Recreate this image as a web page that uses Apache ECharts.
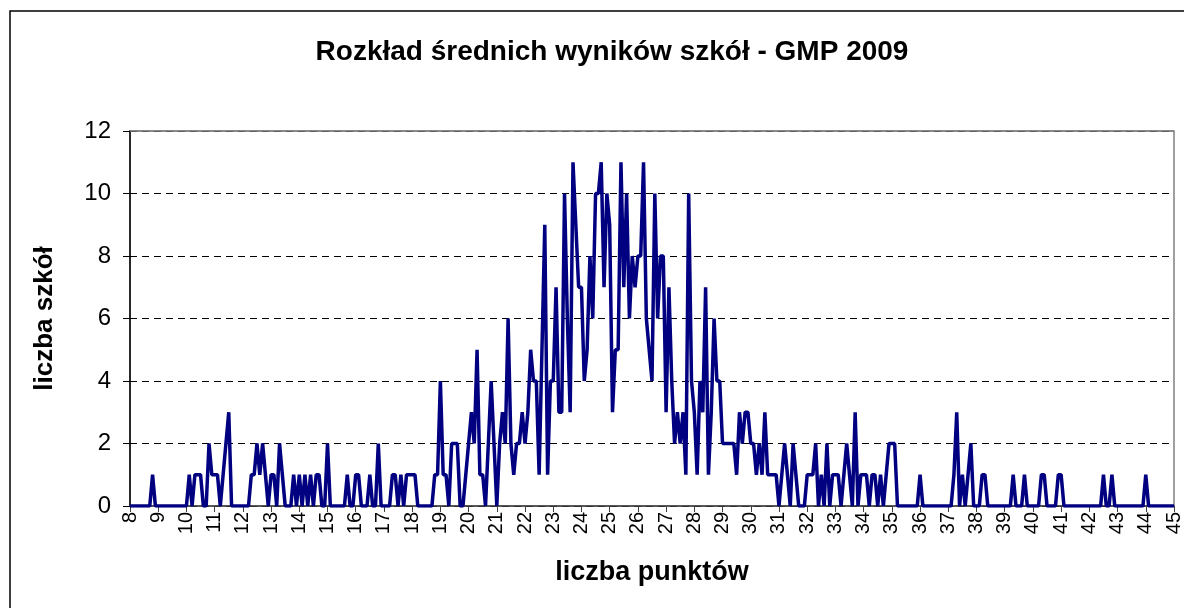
<!DOCTYPE html>
<html>
<head>
<meta charset="utf-8">
<script src="https://cdn.jsdelivr.net/npm/echarts@6/dist/echarts.min.js"></script>
<style>
  html, body { margin: 0; padding: 0; background: #fff; }
  #chart { width: 1184px; height: 608px; }
</style>
</head>
<body>
<div id="chart"></div>
<script>
// x goes from 8 to 45 in steps of 0.1 pkt, labels only on whole numbers
var xStart = 8;
var xEnd = 45;
var xStep = 0.1;
var tickLabels = ['8','9','10','11','12','13','14','15','16','17','18','19','20','21','22','23','24','25','26',
	'27','28','29','30','31','32','33','34','35','36','37','38','39','40','41','42','43','44','45'];

// liczba szkół for each category, one row = one whole point (x.0 .. x.9)
var counts = [
	0,0,0,0,0,0,0,0,1,0,      // 8
	0,0,0,0,0,0,0,0,0,0,      // 9
	0,1,0,1,1,1,0,0,2,1,      // 10
	1,1,0,1,2,3,0,0,0,0,      // 11
	0,0,0,1,1,2,1,2,1,0,      // 12
	1,1,0,2,1,0,0,0,1,0,      // 13
	1,0,1,0,1,0,1,1,0,0,      // 14
	2,0,0,0,0,0,0,1,0,0,      // 15
	1,1,0,0,0,1,0,0,2,0,      // 16
	0,0,0,1,1,0,1,0,1,1,      // 17
	1,1,0,0,0,0,0,0,1,1,      // 18
	4,1,1,0,2,2,2,0,0,1,      // 19
	2,3,2,5,1,1,0,2,4,2,      // 20
	0,2,3,2,6,2,1,2,2,3,      // 21
	2,3,5,4,4,1,5,9,1,4,      // 22
	4,7,3,3,10,6,3,11,9,7,    // 23
	7,4,5,8,6,10,10,11,7,10,  // 24
	9,3,5,5,11,7,10,6,8,7,    // 25
	8,8,11,6,5,4,10,6,8,8,    // 26
	3,7,4,2,3,2,3,1,10,4,     // 27
	3,1,4,3,7,1,3,6,4,4,      // 28
	2,2,2,2,2,1,3,2,3,3,      // 29
	2,2,1,2,1,3,1,1,1,1,      // 30
	0,1,2,1,0,2,1,0,0,0,      // 31
	1,1,1,2,0,1,0,2,0,1,      // 32
	1,1,0,1,2,1,0,3,0,1,      // 33
	1,1,0,1,1,0,1,0,1,2,      // 34
	2,2,0,0,0,0,0,0,0,0,      // 35
	1,0,0,0,0,0,0,0,0,0,      // 36
	0,0,1,3,0,1,0,1,2,0,      // 37
	0,0,1,1,0,0,0,0,0,0,      // 38
	0,0,0,1,0,0,0,1,0,0,      // 39
	0,0,0,1,1,0,0,0,0,1,      // 40
	1,0,0,0,0,0,0,0,0,0,      // 41
	0,0,0,0,0,1,0,0,1,0,      // 42
	0,0,0,0,0,0,0,0,0,0,      // 43
	1,0,0,0,0,0,0,0,0,0,      // 44
	0                         // 45
];

var categories = [];
var n = Math.round((xEnd - xStart) / xStep);
for (var i = 0; i <= n; i++) {
	categories.push((xStart + i * xStep).toFixed(1));
}

function onWhole(idx) {
	return idx % 10 === 0;
}

var chart = echarts.init(document.getElementById('chart'));
var font = '"Liberation Sans", Arial, sans-serif';

var option = {
	animation: false,
	backgroundColor: '#fff',
	title: {
		text: 'Rozkład średnich wyników szkół - GMP 2009',
		left: 607,
		top: 33,
		textAlign: 'center',
		textStyle: { fontFamily: font, fontSize: 28, fontWeight: 'bold', color: '#000' }
	},
	grid: {
		left: 130, top: 131, right: 1, bottom: 102,
		show: true,
		borderColor: '#808080',
		borderWidth: 1.5
	},
	xAxis: {
		type: 'category',
		data: categories,
		boundaryGap: false,
		name: 'liczba punktów',
		nameLocation: 'middle',
		nameGap: 53,
		nameTextStyle: { fontFamily: font, fontSize: 27, fontWeight: 'bold', color: '#000' },
		axisLine: { lineStyle: { color: '#404040', width: 1.5 } },
		axisTick: { interval: function (idx) { return onWhole(idx); }, length: 6, lineStyle: { color: '#404040' } },
		axisLabel: {
			interval: function (idx) { return onWhole(idx); },
			formatter: function (val, idx) { return tickLabels[idx / 10]; },
			rotate: 90,
			margin: 6,
			fontFamily: font,
			fontSize: 20,
			color: '#000'
		},
		splitLine: { show: false }
	},
	yAxis: {
		type: 'value',
		min: 0,
		max: 12,
		interval: 2,
		name: 'liczba szkół',
		nameLocation: 'middle',
		nameRotate: 90,
		nameGap: 72,
		nameTextStyle: { fontFamily: font, fontSize: 26, fontWeight: 'bold', color: '#000' },
		axisLine: { show: true, lineStyle: { color: '#000', width: 1.5 } },
		axisTick: { show: true, length: 7, lineStyle: { color: '#000' } },
		axisLabel: { fontFamily: font, fontSize: 24, color: '#000', margin: 19 },
		splitLine: { lineStyle: { color: '#000', type: [7, 5], width: 1 } }
	},
	series: [{
		type: 'line',
		data: counts,
		symbol: 'none',
		lineStyle: { color: '#000080', width: 3.5 },
		markLine: {
			// solid top edge of plot area over the dashed line at 12
			silent: true,
			symbol: 'none',
			label: { show: false },
			lineStyle: { color: '#808080', type: 'solid', width: 1.5 },
			data: [{ yAxis: 12 }]
		}
	}],
	graphic: [{
		type: 'rect',
		shape: { x: 10, y: 11, width: 1194, height: 620 },
		style: { fill: 'none', stroke: '#000', lineWidth: 1.5 },
		silent: true
	}]
};

chart.setOption(option);
</script>
</body>
</html>
